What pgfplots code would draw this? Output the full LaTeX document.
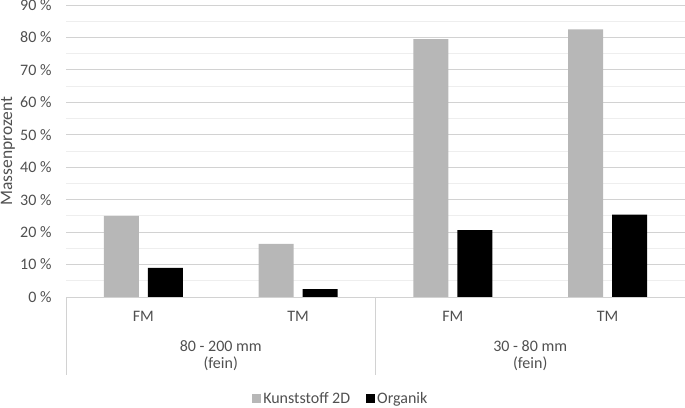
\documentclass[border=0pt]{standalone}
\usepackage{fontspec}
\setmainfont{Carlito}
\usepackage{pgfplots}
\pgfplotsset{compat=1.18}
\definecolor{kunst}{RGB}{183,183,183}
\definecolor{txt}{RGB}{80,80,80}
\definecolor{majgrid}{RGB}{210,210,210}
\definecolor{mingrid}{RGB}{238,238,238}
\begin{document}
\begin{tikzpicture}[x=1pt,y=1pt]
\begin{axis}[
  at={(66pt,110pt)}, anchor=south west,
  scale only axis, width=619pt, height=292pt,
  clip=false,
  ybar, bar width=35pt,
  xmin=-0.5, xmax=3.5, ymin=0, ymax=90,
  xtick={0,1,2,3}, xticklabels={FM,TM,FM,TM},
  ytick={0,10,...,90},
  yticklabels={0 \%,10 \%,20 \%,30 \%,40 \%,50 \%,60 \%,70 \%,80 \%,90 \%},
  minor ytick={5,15,...,85},
  ymajorgrids, yminorgrids,
  major grid style={draw=majgrid, line width=0.9pt},
  minor grid style={draw=mingrid, line width=0.9pt},
  axis line style={draw=none},
  major tick length=0pt, minor tick length=0pt,
  tick label style={font=\fontsize{16}{18}\selectfont, text=txt},
  yticklabel style={xshift=-11pt},
  xticklabel style={yshift=-11pt},
  ylabel={Massenprozent},
  ylabel style={at={(axis description cs:-0.0937,0.5)}, anchor=center, font=\fontsize{17.5}{20}\selectfont, text=txt},
  legend columns=2,
  legend style={at={(0.444,-0.349)}, anchor=center, draw=none, fill=none,
    font=\fontsize{16}{18}\selectfont, text=txt,
    /tikz/every even column/.append style={column sep=14pt}},
  legend image code/.code={\fill[#1] (0pt,-4.5pt) rectangle (9pt,4.5pt);},
]
\addplot[fill=kunst, draw=none, bar shift=-22pt] coordinates {(0,25.0) (1,16.4) (2,79.5) (3,82.5)};
\addplot[fill=black, draw=none, bar shift=22pt] coordinates {(0,9.0) (1,2.4) (2,20.6) (3,25.4)};
\legend{Kunststoff 2D, Organik}
\draw[color=majgrid, line width=0.9pt] (axis cs:-0.5,0) -- (axis cs:3.5,0);
\draw[color=majgrid, line width=0.9pt] (axis cs:-0.5,0) -- ([yshift=-78pt]axis cs:-0.5,0);
\draw[color=majgrid, line width=0.9pt] (axis cs:1.5,0) -- ([yshift=-78pt]axis cs:1.5,0);
\draw[color=majgrid, line width=0.9pt] (axis cs:3.5,0) -- ([yshift=-78pt]axis cs:3.5,0);
\node[align=center, text=txt, font=\fontsize{16}{17}\selectfont] at ([yshift=-59pt]axis cs:0.5,0) {80 - 200 mm\\(fein)};
\node[align=center, text=txt, font=\fontsize{16}{17}\selectfont] at ([yshift=-59pt]axis cs:2.5,0) {30 - 80 mm\\(fein)};
\end{axis}
\pgfresetboundingbox
\useasboundingbox (0pt,0pt) rectangle (685pt,407pt);
\end{tikzpicture}
\end{document}
